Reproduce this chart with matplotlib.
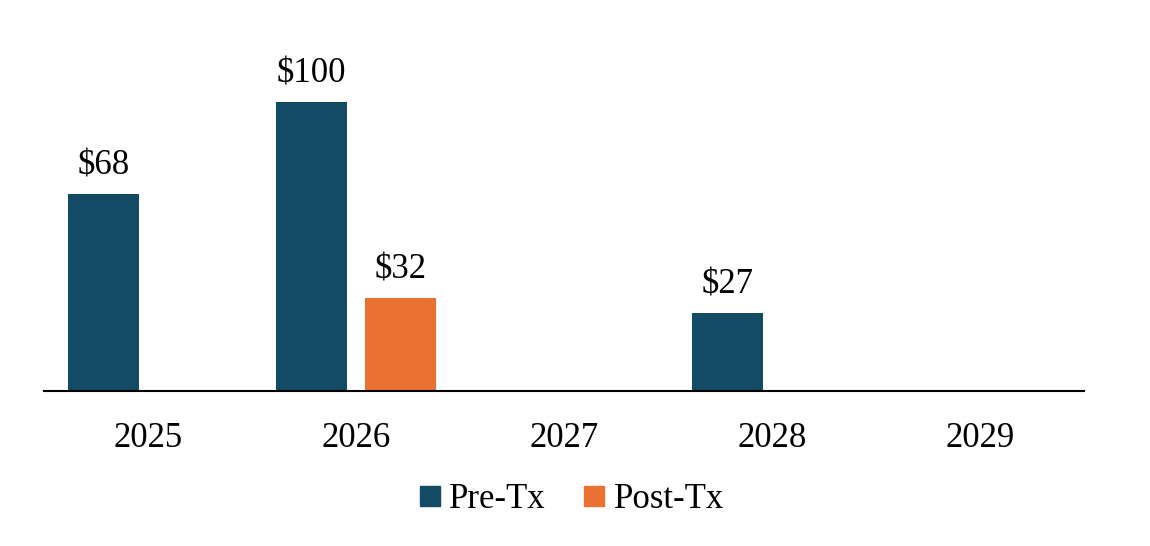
import matplotlib
matplotlib.use("Agg")
import matplotlib.pyplot as plt
from matplotlib.lines import Line2D
import numpy as np

years = ["2025", "2026", "2027", "2028", "2029"]
pre_tx = [68, 100, 0, 27, 0]
post_tx = [0, 32, 0, 0, 0]
series_names = ["Pre-Tx", "Post-Tx"]
colors = ["#134B64", "#E97132"]

plt.rcParams['font.family'] = ['Liberation Serif', 'DejaVu Serif']

fig = plt.figure(figsize=(11.5, 5.46), dpi=100)
ax = fig.add_axes([44/1150, 1-391/546, 1040/1150, 347/546])

x = np.arange(len(years))
w = 0.337
off = 0.214
for vals, o, c in [(pre_tx, -off, colors[0]), (post_tx, off, colors[1])]:
    for xi, v in zip(x, vals):
        if v:
            ax.bar(xi + o, v, width=w, color=c)
            ax.text(xi + o, v + 4, f"${v}", ha='center', va='bottom', fontsize=25, color='black')

ax.set_xlim(-0.5, len(years) - 0.5)
ax.set_ylim(0, 120)
ax.set_xticks(x)
ax.set_xticklabels(years, fontsize=25)
ax.tick_params(axis='x', length=0, pad=22)
ax.set_yticks([])
for s in ['top', 'right', 'left']:
    ax.spines[s].set_visible(False)
ax.spines['bottom'].set_linewidth(1.5)
ax.spines['bottom'].set_color('black')

handles = [Line2D([], [], marker='s', linestyle='none', markersize=14, color=c) for c in colors]
fig.legend(handles, series_names, loc='center', bbox_to_anchor=(570/1150, 1-500/546),
           ncol=2, frameon=False, fontsize=25, handletextpad=0.15, columnspacing=1.0,
           handlelength=0.8)

fig.savefig("out.png", dpi=100)
